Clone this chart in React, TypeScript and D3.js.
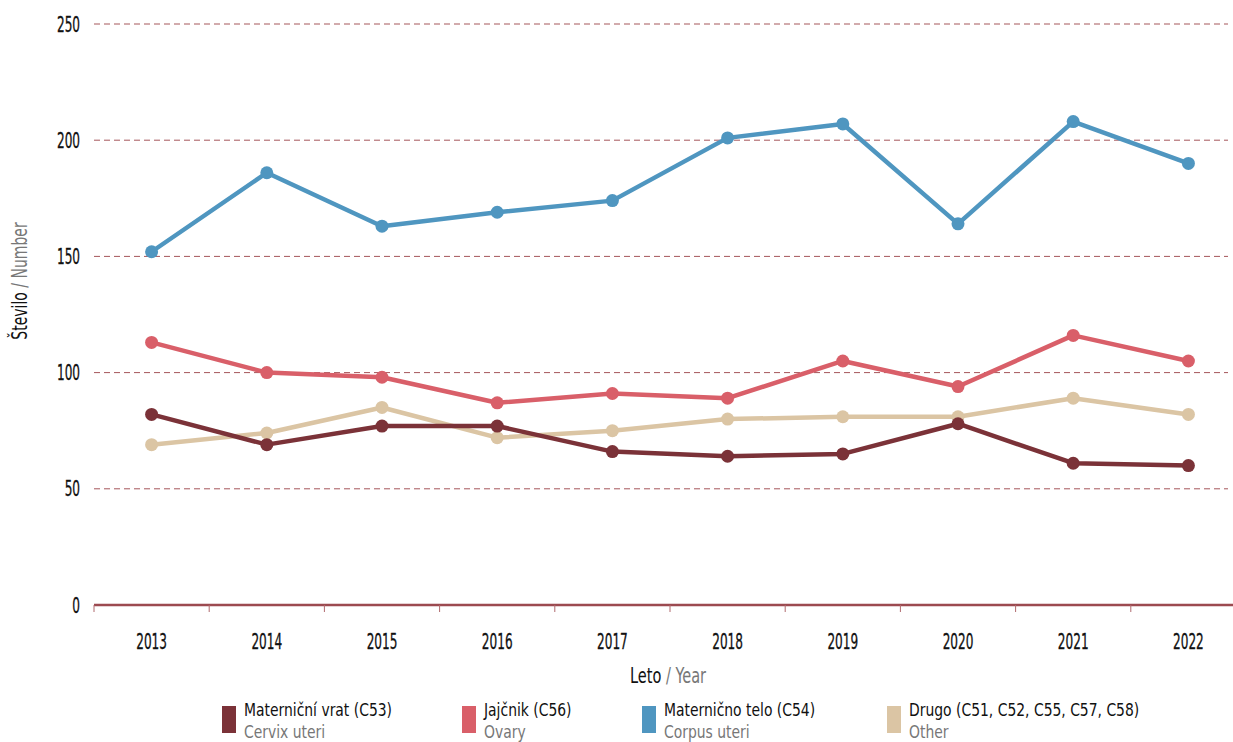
import React from 'react';
import * as d3 from 'd3';

const years = ['2013', '2014', '2015', '2016', '2017', '2018', '2019', '2020', '2021', '2022'];
const cervix = [82, 69, 77, 77, 66, 64, 65, 78, 61, 60];
const ovary = [113, 100, 98, 87, 91, 89, 105, 94, 116, 105];
const corpus = [152, 186, 163, 169, 174, 201, 207, 164, 208, 190];
const other = [69, 74, 85, 72, 75, 80, 81, 81, 89, 82];
const yTicks = [0, 50, 100, 150, 200, 250];

const series = [
  { name: 'Materniční vrat (C53)', en: 'Cervix uteri', color: '#7b3238', values: cervix, lx: 222 },
  { name: 'Jajčnik (C56)', en: 'Ovary', color: '#d95f69', values: ovary, lx: 462 },
  { name: 'Maternično telo (C54)', en: 'Corpus uteri', color: '#4f96c0', values: corpus, lx: 642 },
  { name: 'Drugo (C51, C52, C55, C57, C58)', en: 'Other', color: '#dbc5a4', values: other, lx: 887 },
];

const font = '"DejaVu Sans Condensed", "DejaVu Sans", sans-serif';

// condensed text: squeeze horizontally around its own anchor point
const Narrow = ({ x, y, sx, children, ...rest }: any) => (
  <g transform={`translate(${x},${y}) scale(${sx},1)`}>
    <text {...rest}>{children}</text>
  </g>
);

const App = () => {
  const width = 1233;
  const height = 742;
  const x = d3.scaleBand().domain(years).range([94, 1246]);
  const y = d3.scaleLinear().domain([0, 250]).range([605, 24]);
  const cx = (i: number) => (x(years[i]) as number) + x.bandwidth() / 2;
  const line = d3
    .line<number>()
    .x((d, i) => cx(i))
    .y((d) => y(d));

  const drawOrder = [series[3], series[0], series[1], series[2]];

  return (
    <svg width={width} height={height} style={{ position: 'absolute', left: 0, top: 0, fontFamily: font }}>
      {yTicks.map((t) => (
        <g key={t}>
          {t > 0 && (
            <line x1={94} x2={1228} y1={y(t)} y2={y(t)} stroke="#a5565a" strokeWidth={1} strokeDasharray="6,4" />
          )}
          <Narrow x={80} y={y(t)} sx={0.64} dy="0.36em" textAnchor="end" fontSize={21} fill="#111" stroke="#111" strokeWidth={0.3}>
            {t}
          </Narrow>
        </g>
      ))}
      <line x1={94} x2={1233} y1={605} y2={605} stroke="#9c4a50" strokeWidth={2.5} />
      {years.map((yr, i) => (
        <g key={yr}>
          <line x1={x(yr)} x2={x(yr)} y1={605} y2={612} stroke="#b06a6e" strokeWidth={1} />
          <Narrow x={cx(i)} y={649} sx={0.64} textAnchor="middle" fontSize={21} fill="#111" stroke="#111" strokeWidth={0.3}>
            {yr}
          </Narrow>
        </g>
      ))}
      <Narrow x={668} y={683} sx={0.77} textAnchor="middle" fontSize={21}>
        <tspan fill="#111">Leto</tspan>
        <tspan fill="#777"> / Year</tspan>
      </Narrow>
      <g transform="translate(27,281) rotate(-90)">
        <Narrow x={0} y={0} sx={0.74} textAnchor="middle" fontSize={21}>
          <tspan fill="#111">Število</tspan>
          <tspan fill="#777"> / Number</tspan>
        </Narrow>
      </g>
      {drawOrder.map((s) => (
        <g key={s.name}>
          <path d={line(s.values) as string} fill="none" stroke={s.color} strokeWidth={4.5} strokeLinejoin="round" />
          {s.values.map((v, i) => (
            <circle key={i} cx={cx(i)} cy={y(v)} r={6.5} fill={s.color} />
          ))}
        </g>
      ))}
      {series.map((s) => (
        <g key={s.name}>
          <rect x={s.lx} y={706} width={14} height={27} fill={s.color} />
          <Narrow x={s.lx + 22} y={716} sx={0.86} fontSize={18} fill="#111">
            {s.name}
          </Narrow>
          <Narrow x={s.lx + 22} y={737.5} sx={0.86} fontSize={18} fill="#777">
            {s.en}
          </Narrow>
        </g>
      ))}
    </svg>
  );
};

export default App;
